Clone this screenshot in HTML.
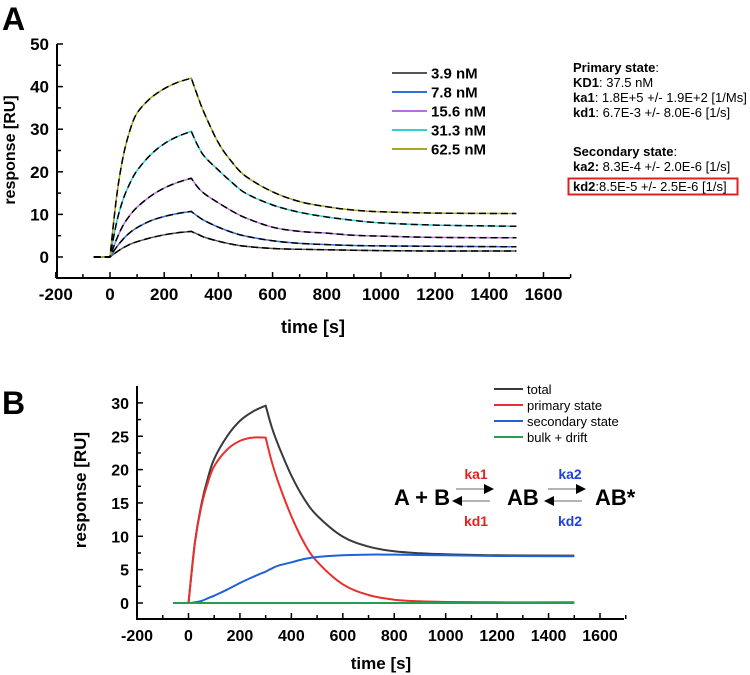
<!DOCTYPE html>
<html><head><meta charset="utf-8"><style>
html,body{margin:0;padding:0;background:#fff;}
svg{display:block;font-family:"Liberation Sans",sans-serif;}
.tk{font-weight:bold;font-size:17px;}
.tkb{font-weight:bold;font-size:16px;}
</style></head><body>
<svg id="fig" width="750" height="675" viewBox="0 0 750 675">
<text x="2" y="30" font-size="32" font-weight="bold">A</text>
<text x="2" y="414" font-size="32" font-weight="bold">B</text>
<g id="gA"></g>
<g id="gB"></g>
<g font-size="13">
<text x="573" y="72"><tspan font-weight="bold">Primary state</tspan>:</text>
<text x="573" y="87"><tspan font-weight="bold">KD1</tspan>: 37.5 nM</text>
<text x="573" y="102"><tspan font-weight="bold">ka1</tspan>: 1.8E+5 +/- 1.9E+2 [1/Ms]</text>
<text x="573" y="117"><tspan font-weight="bold">kd1</tspan>: 6.7E-3 +/- 8.0E-6 [1/s]</text>
<text x="573" y="156"><tspan font-weight="bold">Secondary state</tspan>:</text>
<text x="573" y="171"><tspan font-weight="bold">ka2:</tspan> 8.3E-4 +/- 2.0E-6 [1/s]</text>
<text x="573" y="191"><tspan font-weight="bold">kd2</tspan>:8.5E-5 +/- 2.5E-6 [1/s]</text>
<rect x="568.5" y="178.5" width="169" height="16" fill="none" stroke="#e02020" stroke-width="2"/>
</g>
<g font-weight="bold">
<text x="394" y="505" font-size="22">A + B</text>
<text x="507" y="505" font-size="22">AB</text>
<text x="595" y="505" font-size="22">AB*</text>
<text x="476" y="479" font-size="14" fill="#e52020" text-anchor="middle">ka1</text>
<text x="476" y="526" font-size="14" fill="#e52020" text-anchor="middle">kd1</text>
<text x="570" y="479" font-size="14" fill="#2040e0" text-anchor="middle">ka2</text>
<text x="570" y="526" font-size="14" fill="#2040e0" text-anchor="middle">kd2</text>
<g stroke="#888" stroke-width="1.2">
<line x1="456" y1="489" x2="490" y2="489"/><line x1="456" y1="501" x2="490" y2="501"/>
<line x1="548" y1="489" x2="582" y2="489"/><line x1="548" y1="501" x2="582" y2="501"/>
</g>
<polygon points="494,489 484,484 484,494" fill="#000"/>
<polygon points="452,501 462,496 462,506" fill="#000"/>
<polygon points="586,489 576,484 576,494" fill="#000"/>
<polygon points="544,501 554,496 554,506" fill="#000"/>
</g>
</svg>
<script>
const T = [-60,0,25,50,75,100,150,200,250,300,325,350,400,450,500,600,700,800,900,1000,1200,1500];
const concLabels = ["3.9 nM","7.8 nM","15.6 nM","31.3 nM","62.5 nM"];
const s39 = [0,0,1.2,2.2,3,3.6,4.5,5.2,5.7,6,5.3,4.6,3.7,3,2.5,2,1.8,1.7,1.6,1.5,1.4,1.4];
const s78 = [0,0,2.4,4.3,5.8,6.9,8.5,9.5,10.2,10.7,9.5,8.5,7,5.8,4.9,3.8,3.2,2.9,2.7,2.6,2.5,2.4];
const s156 = [0,0,4.3,7.6,9.9,11.7,14.3,16.2,17.5,18.5,16.3,14.8,12.7,10.8,9.2,7,6,5.6,5.1,4.9,4.6,4.5];
const s313 = [0,0,8.3,13.8,17.5,20.3,24,26.6,28.3,29.5,26,23.5,20.4,17.5,15,12.2,10.5,9.4,8.6,8,7.5,7.2];
const s625 = [0,0,14.5,24,30,33.8,37.3,39.5,41,42,37.5,33.5,26.8,22.3,19,15.3,13,11.8,11,10.6,10.3,10.2];
const xTicks = [-200,0,200,400,600,800,1000,1200,1400,1600];
const yTicksA = [0,10,20,30,40,50];
const bLabels = ["total","primary state","secondary state","bulk + drift"];
const bTotal = [0,0,9.1,14.8,18.7,21.6,25,27.3,28.7,29.6,26.2,23.6,19.1,15.6,13.1,9.95,8.45,7.75,7.45,7.3,7.15,7.1];
const bPrimary = [0,0,9,14.5,18,20.5,23,24.3,24.8,24.8,21,18,13,9,6.2,2.8,1.2,0.5,0.25,0.15,0.1,0.1];
const bSecondary = [0,0,0.1,0.3,0.7,1.1,2,3,3.9,4.7,5.2,5.6,6.1,6.6,6.9,7.15,7.25,7.25,7.2,7.15,7.05,7.0];
const bBulk = [0,0,0,0,0,0,0,0,0,0,0,0,0,0,0,0,0,0,0,0,0,0];
const yTicksB = [0,5,10,15,20,25,30];

const NS="http://www.w3.org/2000/svg";
function mk(parent,tag,attrs){const e=document.createElementNS(NS,tag);for(const k in attrs)e.setAttribute(k,attrs[k]);parent.appendChild(e);return e;}

const gA=document.getElementById('gA');
const xA=v=>110+(v)*(433.5/1600);
const yA=v=>257-v*4.26;
function axes(g,xs,ys,x0,x1,yBot,yTop,xMin,xMax,yMin,yMax,xt,yt,cls,yMinor){
  const ax=mk(g,'path',{d:`M${x0},${yTop} L${x0},${yBot} L${x1},${yBot}`,fill:'none',stroke:'#000','stroke-width':2});
  
  for(let v=xMin;v<=xMax;v+=100){const X=xs(v);const major=xt.includes(v);
    mk(g,'line',{x1:X,x2:X,y1:yBot,y2:yBot-(major?6:4),stroke:'#000','stroke-width':1.5});}
  xt.forEach(v=>{const t=mk(g,'text',{x:xs(v),y:yBot+22,'text-anchor':'middle',class:cls});t.textContent=v;
    });
  for(let v=yMin;v<=yMax+1e-9;v+=yMinor){const Y=ys(v);const major=yt.includes(v);
    mk(g,'line',{x1:x0,x2:x0+(major?6:4),y1:Y,y2:Y,stroke:'#000','stroke-width':1.5});}
  yt.forEach(v=>{const t=mk(g,'text',{x:x0-8,y:ys(v)+6,'text-anchor':'end',class:cls});t.textContent=v;
    });
}
axes(gA,xA,yA,57,570,278,44,-200,1700,-5,50,xTicks,yTicksA,'tk',5);
// smooth path, breaking at corner indices (t=0 and t=300)
const corners=[1,9];
function smoothPath(pts){
  let d='M'+pts[0][0].toFixed(1)+','+pts[0][1].toFixed(1);
  for(let i=0;i<pts.length-1;i++){
    const p1=pts[i],p2=pts[i+1];
    const p0=(i===0||corners.includes(i))?p1:pts[i-1];
    const p3=(i+1===pts.length-1||corners.includes(i+1))?p2:pts[i+2];
    const c1=[p1[0]+(p2[0]-p0[0])/6,p1[1]+(p2[1]-p0[1])/6];
    const c2=[p2[0]-(p3[0]-p1[0])/6,p2[1]-(p3[1]-p1[1])/6];
    d+=` C${c1[0].toFixed(1)},${c1[1].toFixed(1)} ${c2[0].toFixed(1)},${c2[1].toFixed(1)} ${p2[0].toFixed(1)},${p2[1].toFixed(1)}`;
  }
  return d;
}
function line(g,xs,ys,arr,color,w,dash,name){
  const pts=T.map((t,i)=>[xs(t),ys(arr[i])]);
  const p=mk(g,'path',{d:smoothPath(pts),fill:'none',stroke:color,'stroke-width':w,'stroke-linejoin':'round'});
  if(dash)p.setAttribute('stroke-dasharray',dash);
  
}
const seriesA=[s39,s78,s156,s313,s625];
const colA=['#555','#2e6fd6','#b86ee0','#30d0d8','#a8a820'];
seriesA.forEach((s,i)=>{line(gA,xA,yA,s,colA[i],1.5,null,'series-'+i);});
seriesA.forEach((s,i)=>{line(gA,xA,yA,s,'#000',1.5,'7,4','fit-'+i);});
concLabels.forEach((l,i)=>{const y=73+i*19;
  mk(gA,'line',{x1:392,x2:427,y1:y,y2:y,stroke:colA[i],'stroke-width':2});
  const t=mk(gA,'text',{x:431,y:y+5.5,'font-size':15,'font-weight':'bold'});t.textContent=l;
  });
let t=mk(gA,'text',{x:313,y:333,'text-anchor':'middle','font-size':18,'font-weight':'bold'});t.textContent='time [s]';

t=mk(gA,'text',{x:0,y:0,'text-anchor':'middle','font-size':16,'font-weight':'bold',transform:'translate(15,150) rotate(-90)'});t.textContent='response [RU]';


const gB=document.getElementById('gB');
const xB=v=>188.5+v*(411.5/1600);
const yB=v=>603-v*6.67;
axes(gB,xB,yB,137,624,619,386,-200,1700,0,30,xTicks,yTicksB,'tkb',2.5);
const colB=['#3a3a3a','#e83030','#2060d8','#22a050'];
[bTotal,bPrimary,bSecondary,bBulk].forEach((s,i)=>line(gB,xB,yB,s,colB[i],2,null,'b-series-'+i));
bLabels.forEach((l,i)=>{const y=389+i*16;
  mk(gB,'line',{x1:494,x2:523,y1:y,y2:y,stroke:colB[i],'stroke-width':2});
  const t=mk(gB,'text',{x:527,y:y+5,'font-size':13});t.textContent=l;
  });
t=mk(gB,'text',{x:381,y:669,'text-anchor':'middle','font-size':17,'font-weight':'bold'});t.textContent='time [s]';

t=mk(gB,'text',{x:0,y:0,'text-anchor':'middle','font-size':17,'font-weight':'bold',transform:'translate(86,490) rotate(-90)'});t.textContent='response [RU]';

</script>
</body></html>
